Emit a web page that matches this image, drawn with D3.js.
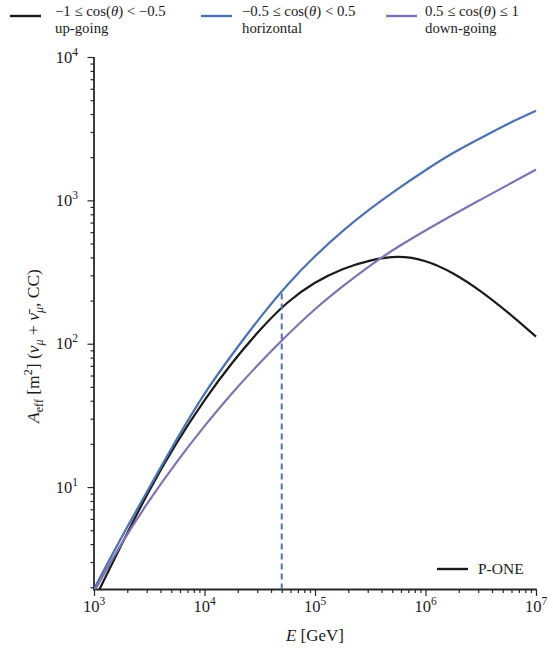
<!DOCTYPE html>
<html><head><meta charset="utf-8">
<script src="https://cdn.jsdelivr.net/npm/d3@7/dist/d3.min.js"></script>
<style>
body{margin:0;background:#fff}
text{font-family:"Liberation Serif","DejaVu Serif",serif;fill:#1a1a1a}
</style>
</head><body>
<svg id="c" width="553" height="652"></svg>
<script>
// ---- data ----
const energies = [1000, 1778, 3162, 5623, 10000, 17783, 31623, 56234, 100000, 177828, 316228, 562341, 1000000, 1778279, 3162278, 5623413, 10000000];
const upGoing    = [1.62, 3.98, 9.44, 20.4, 40.3, 73.3, 124, 193, 266, 331, 380, 403, 376, 309, 232, 164, 112];
const horizontal = [1.95, 4.47, 9.89, 21.6, 44.7, 84.1, 151, 257, 407, 610, 871, 1202, 1622, 2138, 2723, 3428, 4217];
const downGoing  = [1.86, 4.03, 8.04, 15.0, 26.6, 45.2, 73.3, 115, 174, 251, 351, 473, 617, 794, 1012, 1288, 1641];
const seriesNames = ["up-going", "horizontal", "down-going"];
const seriesRanges = ["\u22121 \u2264 cos(|\u03b8|) < \u22120.5", "\u22120.5 \u2264 cos(|\u03b8|) < 0.5", "0.5 \u2264 cos(|\u03b8|) \u2264 1"];
const seriesColors = ["#1a1a1a", "#4c72b0", "#8172b2"];
const xTickExps = [3, 4, 5, 6, 7];
const yTickExps = [1, 2, 3, 4];
const dashedE = 50000, dashedTop = 231;
const detectorLabel = "P-ONE";

// ---- layout ----
const L = 94, R = 536, T = 57, B = 589.5;
const svg = d3.select("#c");
const x = d3.scaleLog().domain([1e3, 1e7]).range([L, R]);
const y = d3.scaleLog().domain([1.93, 1e4]).range([B, T]);

svg.append("defs").append("clipPath").attr("id", "clip")
  .append("rect").attr("x", L).attr("y", T - 5).attr("width", R - L + 5).attr("height", B - T + 5);

// minor ticks
const minorX = [], minorY = [];
for (let e = 3; e < 7; e++) for (let m = 2; m <= 9; m++) minorX.push(m * 10 ** e);
for (let e = 0; e < 4; e++) for (let m = 2; m <= 9; m++) { const v = m * 10 ** e; if (v >= 1.93) minorY.push(v); }

function styleAxis(g) {
  g.select(".domain").remove();
  g.selectAll("line").attr("stroke", "#262626").attr("stroke-width", 1.2);
  g.selectAll("text").remove();
}
svg.append("g").attr("transform", `translate(0,${B})`)
  .call(d3.axisBottom(x).tickValues(minorX).tickSize(3.5)).call(styleAxis);
svg.append("g").attr("transform", `translate(0,${B})`)
  .call(d3.axisBottom(x).tickValues(xTickExps.map(e => 10 ** e)).tickSize(6.5)).call(styleAxis);
svg.append("g").attr("transform", `translate(${L},0)`)
  .call(d3.axisLeft(y).tickValues(minorY).tickSize(3.5)).call(styleAxis);
svg.append("g").attr("transform", `translate(${L},0)`)
  .call(d3.axisLeft(y).tickValues(yTickExps.map(e => 10 ** e)).tickSize(6.5)).call(styleAxis);

// spines
svg.append("line").attr("x1", L).attr("x2", L).attr("y1", T).attr("y2", B + 0.75)
  .attr("stroke", "#262626").attr("stroke-width", 1.8);
svg.append("line").attr("x1", L - 0.9).attr("x2", R + 0.75).attr("y1", B).attr("y2", B)
  .attr("stroke", "#262626").attr("stroke-width", 1.8);

// tick labels
function pow10(sel, exp) {
  sel.append("tspan").text("10");
  sel.append("tspan").attr("font-size", 11.5).attr("dy", -7).text(exp);
}
xTickExps.forEach(e => {
  const t = svg.append("text").attr("x", x(10 ** e)).attr("y", 612).attr("text-anchor", "middle").attr("font-size", 16.5);
  pow10(t, e);
});
yTickExps.forEach(e => {
  const t = svg.append("text").attr("x", 78).attr("y", y(10 ** e) + 5.5).attr("text-anchor", "end").attr("font-size", 16.5);
  pow10(t, e);
});

// axis labels
const xl = svg.append("text").attr("x", (L + R) / 2).attr("y", 641).attr("text-anchor", "middle").attr("font-size", 17);
xl.append("tspan").attr("font-style", "italic").text("E");
xl.append("tspan").text(" [GeV]");

const yl = svg.append("text").attr("transform", `translate(39,346) rotate(-90)`).attr("text-anchor", "middle").attr("font-size", 17.5);
yl.append("tspan").attr("font-style", "italic").text("A");
yl.append("tspan").attr("font-size", 12).attr("dy", 3.5).text("eff");
yl.append("tspan").attr("dy", -3.5).text(" [m");
yl.append("tspan").attr("font-size", 12).attr("dy", -7).text("2");
yl.append("tspan").attr("dy", 7).text("] (");
yl.append("tspan").attr("font-style", "italic").text("\u03bd");
yl.append("tspan").attr("font-size", 12).attr("font-style", "italic").attr("dy", 3.5).text("\u03bc");
yl.append("tspan").attr("dy", -3.5).text(" + ");
yl.append("tspan").attr("font-style", "italic").text("\u03bd\u0304");
yl.append("tspan").attr("font-size", 12).attr("font-style", "italic").attr("dy", 3.5).text("\u03bc");
yl.append("tspan").attr("dy", -3.5).text(", CC)");

// curves
const line = d3.line().x(d => x(d[0])).y(d => y(d[1])).curve(d3.curveNatural);
const plot = svg.append("g").attr("clip-path", "url(#clip)");
[upGoing, horizontal, downGoing].forEach((vals, i) => {
  plot.append("path").datum(energies.map((e, k) => [e, vals[k]]))
    .attr("d", line).attr("fill", "none").attr("stroke", seriesColors[i]).attr("stroke-width", 2.2);
});
// dashed marker at 50 TeV
plot.append("line").attr("x1", x(dashedE)).attr("x2", x(dashedE)).attr("y1", B).attr("y2", y(dashedTop))
  .attr("stroke", seriesColors[1]).attr("stroke-width", 2).attr("stroke-dasharray", "6,4");

// top legend
const legX = [10, 201, 386];
const legTextX = [55, 242, 425];
seriesNames.forEach((name, i) => {
  svg.append("line").attr("x1", legX[i]).attr("x2", legX[i] + 31).attr("y1", 16).attr("y2", 16)
    .attr("stroke", seriesColors[i]).attr("stroke-width", 2.4);
  const t = svg.append("text").attr("x", legTextX[i]).attr("y", 15.5).attr("font-size", 14.8);
  const parts = seriesRanges[i].split("|");
  t.append("tspan").text(parts[0]);
  t.append("tspan").attr("font-style", "italic").text(parts[1]);
  t.append("tspan").text(parts[2]);
  svg.append("text").attr("x", legTextX[i]).attr("y", 32.5).attr("font-size", 14.8).text(name);
});

// detector legend
svg.append("line").attr("x1", 437).attr("x2", 468).attr("y1", 569).attr("y2", 569)
  .attr("stroke", "#1a1a1a").attr("stroke-width", 2.4);
svg.append("text").attr("x", 478).attr("y", 574).attr("font-size", 15.5).text(detectorLabel);
</script>
</body></html>
